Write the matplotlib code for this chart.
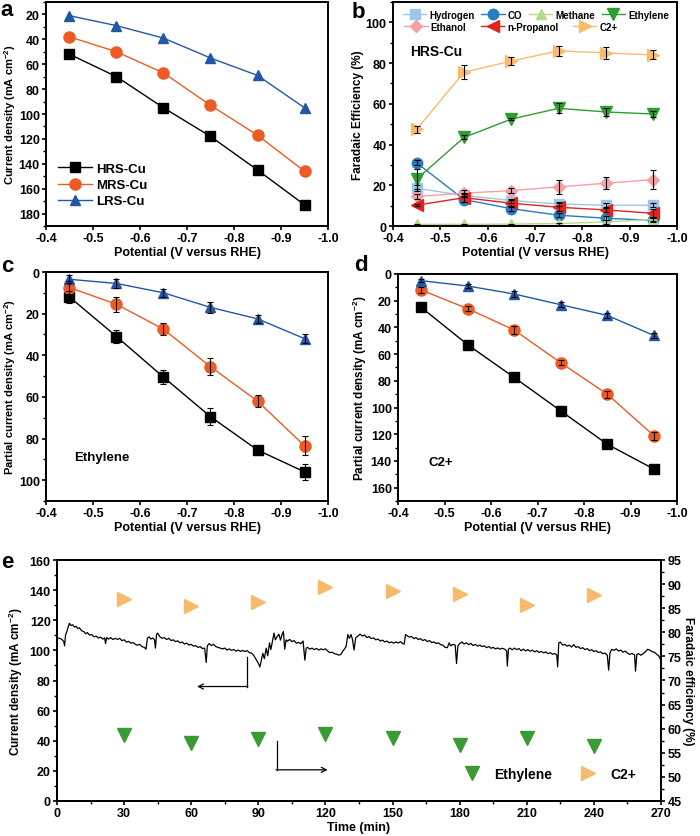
import matplotlib
matplotlib.use("Agg")
import matplotlib.pyplot as plt
from matplotlib.ticker import MultipleLocator

plt.rcParams['font.family'] = ['Liberation Sans', 'DejaVu Sans']
plt.rcParams['font.weight'] = 'bold'
plt.rcParams['axes.labelweight'] = 'bold'
plt.rcParams['font.size'] = 9
plt.rcParams['axes.labelsize'] = 8.5
plt.rcParams['axes.linewidth'] = 1.4
plt.rcParams['mathtext.default'] = 'regular'
for ax_name in ('xtick', 'ytick'):
    plt.rcParams[ax_name + '.major.width'] = 1.2
    plt.rcParams[ax_name + '.minor.width'] = 1.0
    plt.rcParams[ax_name + '.major.size'] = 3.0
    plt.rcParams[ax_name + '.minor.size'] = 2.0
    plt.rcParams[ax_name + '.major.pad'] = 1.5

# ---- data ----
potential = [-0.45, -0.55, -0.65, -0.75, -0.85, -0.95]
samples = ["HRS-Cu", "MRS-Cu", "LRS-Cu"]

# a: total current density
j_hrs = [52, 70, 95, 118, 145, 173]
j_mrs = [38, 50, 67, 93, 117, 146]
j_lrs = [21, 29, 39, 55, 69, 95]

# b: Faradaic efficiency of HRS-Cu (%)
fe_products = ["Hydrogen", "CO", "Methane", "Ethylene", "Ethanol", "n-Propanol", "C2+"]
fe_hydrogen = [18.5, 15, 12.5, 10.8, 10.2, 10.2]
fe_co = [31, 13, 8.5, 5.3, 3.8, 2.8]
fe_methane = [0.8, 0.8, 0.9, 1.2, 2.0, 3.3]
fe_ethylene = [23, 43.5, 52.5, 57.8, 56, 55]
fe_ethanol = [14.5, 16.1, 17.4, 19.2, 21, 22.8]
fe_propanol = [10.2, 13.9, 11.2, 9.2, 7.9, 6.2]
fe_c2 = [47.5, 75.5, 81, 86, 85, 84]
err_hydrogen = [1.5, 1.0, 1.0, 1.0, 1.0, 1.0]
err_co = [1.2, 1.2, 1.0, 1.0, 1.0, 1.0]
err_methane = [0.3, 0.3, 0.3, 0.5, 0.8, 0.8]
err_ethylene = [5.0, 1.0, 0.5, 2.5, 2.0, 1.5]
err_ethanol = [1.0, 1.5, 1.2, 3.5, 3.0, 4.5]
err_propanol = [0.5, 2.0, 1.5, 2.0, 1.0, 2.0]
err_c2 = [1.8, 3.5, 2.0, 2.5, 3.0, 2.2]

# c: ethylene partial current density
jc_hrs = [12, 31, 50.5, 69.5, 85.5, 96]
jc_mrs = [7.5, 15.5, 27.5, 45.5, 62, 83.5]
jc_lrs = [3.5, 5.5, 10, 17, 22.5, 32]
ec_hrs = [3, 3, 3.5, 4, 2, 4]
ec_mrs = [3, 3.5, 3, 4, 3, 4.5]
ec_lrs = [2, 2, 2, 2.5, 2, 2]

# d: C2+ partial current density
jd_hrs = [25, 53, 77.5, 102.5, 127.5, 146]
jd_mrs = [12, 26, 42, 66.5, 90, 121]
jd_lrs = [5, 9, 15, 23, 31, 46]
ed_hrs = [3, 3, 3, 3.5, 3, 3]
ed_mrs = [2, 2, 3, 2, 2.5, 3]
ed_lrs = [1, 1.5, 2, 2, 2, 2]

# e: stability test
trace_t = [0, 1, 2, 3, 3.4, 3.8, 4.5, 5.5, 6.2, 7, 7.8, 8.5, 9.3, 10, 11, 12, 12.8, 13.6, 14.5, 15.5,
           16.5, 17.5, 18.5, 19.5, 20.5, 21.3, 21.7, 22.2, 23, 24, 25, 26, 27, 28, 29, 30, 31, 32, 33, 34,
           35, 36, 37, 38, 39, 39.8, 40.4, 41.2, 42, 42.8, 43.6, 44, 44.5, 45, 46, 47, 48, 49, 50, 51,
           52, 53, 54, 55, 56, 57, 58, 59, 60, 61, 62, 63, 64, 65, 66, 66.7, 67.2, 68, 69, 70,
           71, 72, 73, 74, 75, 76, 77, 78, 79, 80, 81, 82, 83, 84, 85, 86, 87, 88, 89, 90,
           90.7, 91.3, 92, 92.7, 93.5, 94.2, 95, 95.6, 96.3, 97, 97.6, 98.3, 99.2, 99.9, 100.6, 101.2, 101.8, 102.4, 103, 104,
           105, 106, 107, 108, 109, 110, 110.8, 111.4, 112, 113, 114, 115, 116, 117, 118, 119, 120, 121, 122, 123,
           124, 125, 126, 127, 127.8, 128.6, 129.3, 130, 130.7, 131.4, 132, 132.8, 133.5, 134.5, 135.5, 136.5, 137.5, 138.5, 139.5, 140.5,
           141.5, 142.5, 143.5, 144.5, 145.5, 146.5, 147.5, 148.5, 149.5, 150.5, 151.5, 152.5, 153.5, 154.5, 155.2, 155.8, 156.5, 157.5, 158.5, 159.5,
           160.5, 161.5, 162.5, 163.5, 164.5, 165.5, 166.5, 167.5, 168.5, 169.5, 170.5, 171.5, 172.5, 173.5, 174.5, 175.3, 176, 177, 178, 178.6,
           179.2, 180, 181, 182, 183, 184, 185, 186, 187, 188, 189, 190, 191, 192, 193, 194, 195, 196, 197, 198,
           199, 200.3, 201, 201.3, 201.8, 202.5, 203.5, 204.5, 205.5, 206.5, 207.5, 208.5, 209.5, 210.5, 211.5, 212.5, 213.5, 214.5, 215.5, 216.5,
           217.5, 218.5, 219.5, 220.5, 221.5, 222.5, 223.4, 223.8, 224.3, 225, 226, 227, 228, 229, 230, 231, 232, 233, 234, 235,
           236, 237, 238, 239, 240, 241, 242, 243, 244, 245, 246, 246.6, 247.2, 248, 249, 250, 251, 252, 253, 254,
           255, 256, 257, 258.2, 258.6, 259.2, 260, 261, 262, 263, 264, 265, 266, 267, 268, 269, 270]
trace_j = [108.5, 108, 107.5, 106, 103, 110, 113, 118, 116.5, 117, 115.5, 116, 114.5, 115, 113, 112.5, 111, 111.8, 110.2, 110.5,
           109, 109.5, 108.2, 108.8, 107.5, 108.3, 104.5, 108.5, 107.5, 108.5, 107.2, 108, 107.3, 108, 106.5, 107, 105.5, 106, 104.8, 105.2,
           104, 103.5, 104, 102.5, 102, 100.8, 108, 109, 107.5, 108.2, 107, 101.5, 110.5, 111.5, 109, 108, 108.5, 107.2, 108, 106.5,
           107, 105.8, 106.3, 105, 105.5, 104.2, 104.8, 103.5, 104, 102.8, 103.2, 102, 102.5, 101.2, 101.5, 92, 103, 104.5, 103.2, 104,
           102.5, 102, 101.5, 101, 101.5, 100.2, 101, 100, 100.6, 99.5, 100.2, 99.3, 100, 99.2, 99.8, 98.5, 98.2, 96.5, 94, 91.5,
           89, 93, 98, 94.5, 101.5, 96.5, 105, 100.5, 106, 111.5, 107, 109, 110.7, 106.8, 110.5, 112.5, 100.8, 107, 106, 107.3,
           105.8, 106.5, 104.8, 105.3, 104.4, 106.2, 93.5, 101.5, 102, 100.8, 101.5, 100.5, 101.3, 100.2, 101, 100.4, 101, 99.6, 98.5, 98.8,
           97.8, 97.5, 96.8, 97.5, 99.6, 101, 103, 110.5, 108, 110.5, 107.8, 100.2, 108.3, 109.5, 110.8, 109.5, 110.2, 108.5, 109.2, 107.8,
           108.3, 107, 107.5, 106.2, 106.8, 105.6, 106.2, 105, 105.6, 104.8, 105.6, 104.9, 105.8, 104.5, 104.2, 110.5, 109.8, 108.8, 109.2, 107.8,
           108.5, 107.2, 107.8, 106.5, 107.2, 105.8, 106.5, 105.2, 105.6, 104.6, 105, 103.8, 103.5, 102, 101.8, 105, 103, 104, 103.5, 91.3,
           103, 104.5, 105.6, 104.2, 105, 103.8, 104.6, 103.2, 104, 102.8, 103.5, 102.5, 103, 101.8, 102.6, 101.4, 102, 101, 101.6, 100.8,
           101.4, 100.7, 99.5, 89.6, 100.8, 101.5, 100.4, 101.5, 100.5, 101.2, 99.8, 100.8, 99.6, 100.5, 99.4, 100.2, 99, 99.8, 98.6, 99.4,
           98.3, 99, 97.8, 98.5, 97.4, 98, 97, 89.1, 104.9, 105.5, 103.5, 104, 102.8, 103.5, 102.2, 103.8, 102, 102.5, 101.2, 101.8,
           100.5, 101.2, 99.8, 100.5, 99.2, 99.8, 98.5, 99, 97.8, 98.2, 96.7, 86.9, 98.5, 100.7, 100, 101, 99.6, 100.2, 98.8, 99.5,
           98.2, 97.3, 98, 97, 86.2, 97.3, 97.8, 96.8, 97.8, 99, 100.7, 100.2, 99.2, 98.8, 97.5, 96.3, 93.3]
sample_time = [30, 60, 90, 120, 150, 180, 210, 240]
fe_time_ethylene = [58.6, 57.0, 57.9, 59.0, 58.0, 56.6, 58.1, 56.4]
fe_time_c2 = [86.9, 85.4, 86.3, 89.5, 88.5, 88.0, 85.6, 87.8]

sample_colors = ["black", "#EE5A24", "#2257A6"]
sample_markers = ["s", "o", "^"]

W, H = 700, 837
fig = plt.figure(figsize=(7, 8.37), dpi=100)


def add_axes(left, top, right, bottom):
    return fig.add_axes([left / W, 1 - bottom / H, (right - left) / W, (bottom - top) / H])


def style_potential_axis(ax):
    ax.set_xlim(-0.4, -1.0)
    ax.set_xticks([-0.4, -0.5, -0.6, -0.7, -0.8, -0.9, -1.0])
    ax.set_xticklabels(["-0.4", "-0.5", "-0.6", "-0.7", "-0.8", "-0.9", "-1.0"])
    ax.set_xlabel("Potential (V versus RHE)", labelpad=1, fontsize=9)


# ---- a ----
ax = add_axes(46, 3, 328, 227)
for vals, c, m, lab in zip([j_hrs, j_mrs, j_lrs], sample_colors, sample_markers, samples):
    ax.plot(potential, vals, color=c, marker=m, ms=7.5 if m != "o" else 8, lw=1, label=lab)
style_potential_axis(ax)
ax.set_ylim(190, 10)
ax.yaxis.set_major_locator(MultipleLocator(20))
ax.yaxis.set_minor_locator(MultipleLocator(10))
ax.set_ylabel("Current density (mA cm$^{-2}$)", labelpad=0.5, fontsize=8)
ax.legend(loc="lower left", bbox_to_anchor=(0.0, 0.03), frameon=False, fontsize=9.5,
          handlelength=2.6, handletextpad=0.3, labelspacing=0.3)

# ---- b ----
ax = add_axes(393, 3, 677, 227)
fe_vals = [fe_hydrogen, fe_co, fe_methane, fe_ethylene, fe_ethanol, fe_propanol, fe_c2]
fe_errs = [err_hydrogen, err_co, err_methane, err_ethylene, err_ethanol, err_propanol, err_c2]
fe_colors = ["#9CC6EA", "#2A7BBF", "#B5DA8C", "#2E9E31", "#F2A2A6", "#E2231F", "#F9BC6C"]
fe_markers = ["s", "o", "^", "v", "D", "<", ">"]
fe_sizes = [7, 7.5, 7.5, 8, 6.5, 8, 8]
handles = []
for vals, errs, c, m, s, lab in zip(fe_vals, fe_errs, fe_colors, fe_markers, fe_sizes, fe_products):
    h, = ax.plot(potential, vals, color=c, marker=m, ms=s, lw=1, label=lab)
    ax.errorbar(potential, vals, yerr=errs, fmt="none", ecolor="black", elinewidth=0.8,
                capsize=2, capthick=0.8, zorder=4)
    handles.append(h)
style_potential_axis(ax)
ax.set_ylim(0, 110)
ax.yaxis.set_major_locator(MultipleLocator(20))
ax.yaxis.set_minor_locator(MultipleLocator(10))
ax.set_ylabel("Faradaic Efficiency (%)", labelpad=1)
leg_kw = dict(loc="upper left", frameon=False, fontsize=7, handlelength=2.4,
              handletextpad=0.3, borderpad=0, borderaxespad=0)
leg1 = ax.legend(handles[:4], fe_products[:4], ncol=4, columnspacing=0.7,
                 bbox_to_anchor=(0.035, 0.965), **leg_kw)
ax.add_artist(leg1)
ax.legend(handles[4:], fe_products[4:], ncol=3, columnspacing=1.5,
          bbox_to_anchor=(0.04, 0.912), **leg_kw)
ax.text(-0.436, 86, "HRS-Cu", fontsize=10, va="center", ha="left")

# ---- c ----
ax = add_axes(46, 273, 328, 502)
for vals, errs, c, m in zip([jc_hrs, jc_mrs, jc_lrs], [ec_hrs, ec_mrs, ec_lrs], sample_colors, sample_markers):
    ax.plot(potential, vals, color=c, marker=m, ms=7.5 if m != "o" else 8, lw=1)
    ax.errorbar(potential, vals, yerr=errs, fmt="none", ecolor="black", elinewidth=0.8,
                capsize=2, capthick=0.8, zorder=4)
style_potential_axis(ax)
ax.set_ylim(110, 0)
ax.yaxis.set_major_locator(MultipleLocator(20))
ax.yaxis.set_minor_locator(MultipleLocator(10))
ax.set_ylabel("Partial current density (mA cm$^{-2}$)", labelpad=0.5, fontsize=8)
ax.text(-0.46, 89, "Ethylene", fontsize=9.5, va="center", ha="left")

# ---- d ----
ax = add_axes(398, 275, 677, 502)
for vals, errs, c, m in zip([jd_hrs, jd_mrs, jd_lrs], [ed_hrs, ed_mrs, ed_lrs], sample_colors, sample_markers):
    ax.plot(potential, vals, color=c, marker=m, ms=7.5 if m != "o" else 8, lw=1)
    ax.errorbar(potential, vals, yerr=errs, fmt="none", ecolor="black", elinewidth=0.8,
                capsize=2, capthick=0.8, zorder=4)
style_potential_axis(ax)
ax.set_ylim(170, 0)
ax.yaxis.set_major_locator(MultipleLocator(20))
ax.yaxis.set_minor_locator(MultipleLocator(10))
ax.set_ylabel("Partial current density (mA cm$^{-2}$)", labelpad=1)
ax.text(-0.465, 140.5, "C2+", fontsize=9.5, va="center", ha="left")

# ---- e ----
ax = add_axes(57, 561, 661, 802)
ax.plot(trace_t, trace_j, color="black", lw=0.9)
ax.set_xlim(0, 270)
ax.set_ylim(0, 160)
ax.xaxis.set_major_locator(MultipleLocator(30))
ax.xaxis.set_minor_locator(MultipleLocator(15))
ax.yaxis.set_major_locator(MultipleLocator(20))
ax.yaxis.set_minor_locator(MultipleLocator(10))
ax.set_xlabel("Time (min)", labelpad=1, fontsize=9)
ax.set_ylabel("Current density (mA cm$^{-2}$)", labelpad=3)
# arrows pointing to the axes
ax.plot([84.9, 84.9], [95.3, 76], color="black", lw=0.9)
ax.annotate("", xy=(62.6, 76), xytext=(85.3, 76),
            arrowprops=dict(arrowstyle="->", color="black", lw=0.9, shrinkA=0, shrinkB=0))
ax.plot([98.3, 98.3], [40, 20.7], color="black", lw=0.9)
ax.annotate("", xy=(121, 20.7), xytext=(97.9, 20.7),
            arrowprops=dict(arrowstyle="->", color="black", lw=0.9, shrinkA=0, shrinkB=0))

ax2 = ax.twinx()
h1, = ax2.plot(sample_time, fe_time_ethylene, ls="none", marker="v", ms=10, color="#3A9B35")
h2, = ax2.plot(sample_time, fe_time_c2, ls="none", marker=">", ms=10, color="#F7B96A")
ax2.set_ylim(45, 95)
ax2.yaxis.set_major_locator(MultipleLocator(5))
ax2.yaxis.set_minor_locator(MultipleLocator(2.5))
ax2.set_ylabel("Faradaic efficiency (%)", rotation=270, labelpad=9)
ax2.legend([h1, h2], ["Ethylene", "C2+"], loc="lower right", bbox_to_anchor=(0.98, 0.03),
           ncol=2, frameon=False, fontsize=10, handletextpad=0.6, columnspacing=1.6)

# panel letters
for lab, x, y in [("a", 0, 11), ("b", 352, 12), ("c", 1, 267), ("d", 354, 266), ("e", 1, 562)]:
    fig.text(x / W, 1 - y / H, lab, fontsize=16, fontweight="bold", ha="left", va="center")

fig.savefig("out.png", dpi=100)
